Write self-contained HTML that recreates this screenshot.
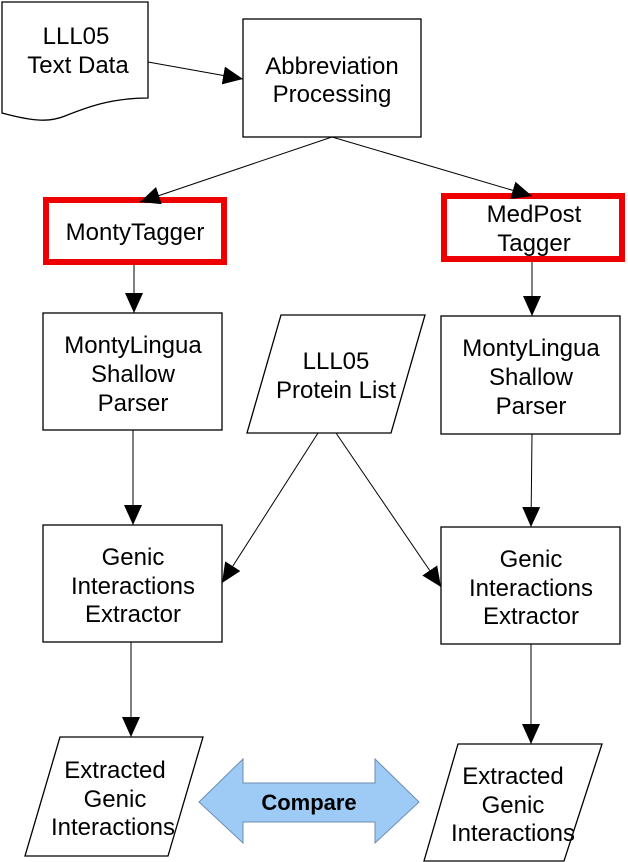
<!DOCTYPE html>
<html><head><meta charset="utf-8"><style>
html,body{margin:0;padding:0;background:#fff;}
svg{display:block;}
text{font-family:"Liberation Sans",sans-serif;font-size:24px;fill:#000;text-anchor:middle;}
</style></head><body>
<svg width="628" height="862" viewBox="0 0 628 862">
<defs>
<marker id="a" markerWidth="20" markerHeight="18" refX="20" refY="9" orient="auto" markerUnits="userSpaceOnUse">
<path d="M0,0 L20,9 L0,18 Z" fill="#000"/></marker>
</defs>
<g fill="#fff" stroke="#000" stroke-width="1.3">
<path d="M2,2 H148 V98 C110,98 85,108 65,116 C50,122 35,122 2,113 Z"/>
<rect x="243" y="19" width="178" height="118"/>
<rect x="43" y="313" width="179" height="117"/>
<rect x="441" y="316" width="179" height="118"/>
<path d="M281,315 H425 L391,433 H247 Z"/>
<rect x="43" y="525" width="179" height="117"/>
<rect x="441" y="527" width="179" height="117"/>
<path d="M60,737 H203 L168,856 H25 Z"/>
<path d="M458,744 H602 L564,861 H424 Z"/>
</g>
<g fill="#fff" stroke="#ee0000" stroke-width="6">
<rect x="46" y="200" width="178" height="62"/>
<rect x="444" y="196" width="178" height="63"/>
</g>
<g stroke="#000" stroke-width="1" fill="none" marker-end="url(#a)">
<line x1="148" y1="62" x2="243" y2="79"/>
<line x1="332" y1="137" x2="140" y2="202"/>
<line x1="332" y1="137" x2="532" y2="196"/>
<line x1="134" y1="265" x2="134" y2="313"/>
<line x1="532" y1="262" x2="532" y2="316"/>
<line x1="133" y1="430" x2="133" y2="525"/>
<line x1="532" y1="434" x2="531" y2="527"/>
<line x1="318" y1="433" x2="222" y2="583"/>
<line x1="336" y1="433" x2="441" y2="587"/>
<line x1="131" y1="642" x2="131" y2="737"/>
<line x1="531" y1="644" x2="531" y2="744"/>
</g>
<path d="M199,802 L243,759 V783 H375 V759 L419,802 L375,843 V822 H243 V843 Z" fill="#9ecbf5" stroke="#6c8db0" stroke-width="1"/>
<text x="76" y="44">LLL05</text>
<text x="78" y="73">Text Data</text>
<text x="332" y="74">Abbreviation</text>
<text x="332" y="102">Processing</text>
<text x="135" y="240">MontyTagger</text>
<text x="534" y="222">MedPost</text>
<text x="534" y="251">Tagger</text>
<text x="133" y="353">MontyLingua</text>
<text x="133" y="382">Shallow</text>
<text x="133" y="411">Parser</text>
<text x="531" y="356">MontyLingua</text>
<text x="531" y="385">Shallow</text>
<text x="531" y="414">Parser</text>
<text x="336" y="369">LLL05</text>
<text x="336" y="398">Protein List</text>
<text x="133" y="565">Genic</text>
<text x="133" y="594">Interactions</text>
<text x="133" y="622">Extractor</text>
<text x="531" y="567">Genic</text>
<text x="531" y="596">Interactions</text>
<text x="531" y="624">Extractor</text>
<text x="115" y="778">Extracted</text>
<text x="115" y="807">Genic</text>
<text x="113" y="835">Interactions</text>
<text x="513" y="784">Extracted</text>
<text x="513" y="813">Genic</text>
<text x="513" y="841">Interactions</text>
<text x="309" y="810" style="font-weight:bold;font-size:22px">Compare</text>
</svg>
</body></html>
